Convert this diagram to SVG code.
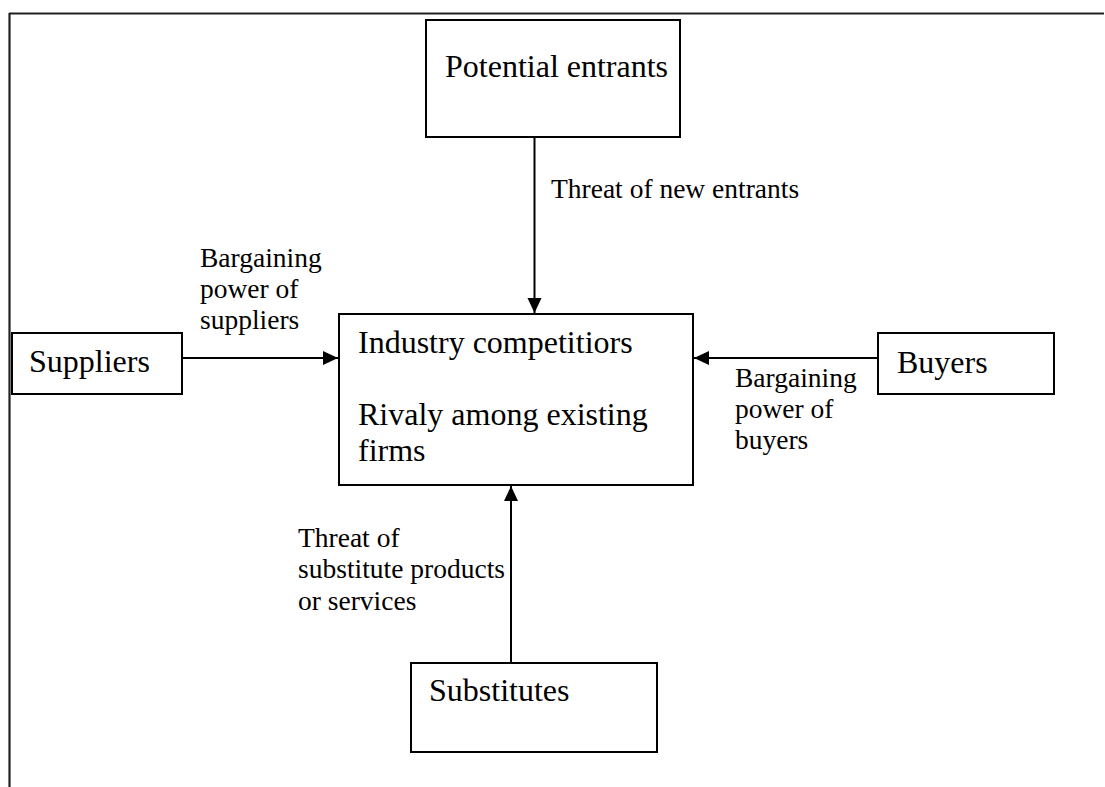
<svg xmlns="http://www.w3.org/2000/svg" width="1105" height="787" viewBox="0 0 1105 787">
<style>
.box{fill:#fff;stroke:#000;stroke-width:2}
.big{font-family:"Liberation Serif","Times New Roman",serif;font-size:32px;fill:#000}
.sm{font-family:"Liberation Serif","Times New Roman",serif;font-size:27.5px;fill:#000}
.ln{stroke:#000;stroke-width:2;fill:none}
</style>
<defs>
<marker id="ah" markerUnits="userSpaceOnUse" markerWidth="16" markerHeight="16" viewBox="0 0 16 16" refX="15" refY="8" orient="auto">
<path d="M0,1 L15,8 L0,15 Z" fill="#000"/>
</marker>
</defs>
<g id="frame">
<line x1="9" y1="13.5" x2="1104" y2="13.5" stroke="#222" stroke-width="2.2"/>
<line x1="9.5" y1="13" x2="9.5" y2="787" stroke="#222" stroke-width="2.2"/>
</g>
<g id="connectors">
<line class="ln" x1="534.5" y1="137" x2="534.5" y2="313" marker-end="url(#ah)"/>
<line class="ln" x1="182" y1="358" x2="338" y2="358" marker-end="url(#ah)"/>
<line class="ln" x1="878" y1="358" x2="694" y2="358" marker-end="url(#ah)"/>
<line class="ln" x1="511" y1="663" x2="511" y2="486" marker-end="url(#ah)"/>
<text class="sm" x="551" y="198">Threat of new entrants</text>
<text class="sm" x="200" y="267">Bargaining</text>
<text class="sm" x="200" y="298">power of</text>
<text class="sm" x="200" y="329">suppliers</text>
<text class="sm" x="735" y="387">Bargaining</text>
<text class="sm" x="735" y="418">power of</text>
<text class="sm" x="735" y="449">buyers</text>
<text class="sm" x="298" y="547">Threat of</text>
<text class="sm" x="298" y="578">substitute products</text>
<text class="sm" x="298" y="610">or services</text>
</g>
<g id="potential-entrants">
<rect class="box" x="426" y="20" width="254" height="117"/>
<text class="big" x="445" y="77">Potential entrants</text>
</g>
<g id="industry-competitors">
<rect class="box" x="339" y="314" width="354" height="171"/>
<text class="big" x="358" y="353">Industry competitiors</text>
<text class="big" x="358" y="425">Rivaly among existing</text>
<text class="big" x="358" y="461">firms</text>
</g>
<g id="suppliers">
<rect class="box" x="12" y="333" width="170" height="61"/>
<text class="big" x="29" y="372">Suppliers</text>
</g>
<g id="buyers">
<rect class="box" x="878" y="333" width="176" height="61"/>
<text class="big" x="897" y="373">Buyers</text>
</g>
<g id="substitutes">
<rect class="box" x="411" y="663" width="246" height="89"/>
<text class="big" x="429" y="701">Substitutes</text>
</g>
</svg>
